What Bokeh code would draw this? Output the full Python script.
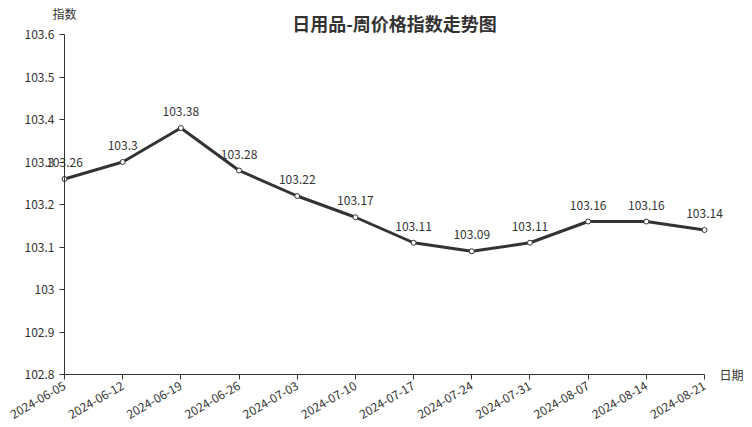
from bokeh.plotting import figure
from bokeh.models import (Range1d, FixedTicker, CustomJSTickFormatter, Label, LabelSet,
                          ColumnDataSource, LinearAxis)
from bokeh.core.properties import value
from bokeh.embed import file_html
from bokeh.resources import INLINE
import math

dates = ["2024-06-05", "2024-06-12", "2024-06-19", "2024-06-26", "2024-07-03", "2024-07-10",
         "2024-07-17", "2024-07-24", "2024-07-31", "2024-08-07", "2024-08-14", "2024-08-21"]
values = [103.26, 103.3, 103.38, 103.28, 103.22, 103.17, 103.11, 103.09, 103.11, 103.16, 103.16, 103.14]
y_ticks = [102.8, 102.9, 103.0, 103.1, 103.2, 103.3, 103.4, 103.5, 103.6]
y_min, y_max = 102.8, 103.6
title_text = "日用品-周价格指数走势图"
y_name = "指数"
x_name = "日期"

FONT = "Noto Sans CJK SC"
DARK = "#333333"

W, H = 752, 427
# plot area (px) inside the canvas: left 64, right 704, top 34, bottom 374
L, R, T, B = 64, 704, 34, 374
n = len(dates)
xpp = (n - 1) / (R - L)
ypp = (y_max - y_min) / (B - T)
x_range = Range1d(0 - L * xpp, (n - 1) + (W - R) * xpp)
y_range = Range1d(y_min - (H - B) * ypp, y_max + T * ypp)

p = figure(width=W, height=H, output_backend="svg", toolbar_location=None,
           x_range=x_range, y_range=y_range, x_axis_type=None, y_axis_type=None,
           min_border=0, min_border_left=0, min_border_right=0,
           min_border_top=0, min_border_bottom=0)
p.outline_line_color = None
p.grid.visible = False

xs = list(range(n))
src = ColumnDataSource(dict(x=xs, y=values, lab=[("%g" % v) for v in values]))

xaxis = LinearAxis(fixed_location=y_min, bounds=(0, n - 1))
yaxis = LinearAxis(fixed_location=0, bounds=(y_min, y_max))
p.add_layout(xaxis, "below")
p.add_layout(yaxis, "left")

for ax in (xaxis, yaxis):
    ax.axis_line_color = DARK
    ax.axis_line_width = 1
    ax.major_tick_line_color = DARK
    ax.minor_tick_line_color = None
    ax.major_tick_out = 5
    ax.major_tick_in = 0
    ax.major_label_text_font = FONT
    ax.major_label_text_font_size = "12px"
    ax.major_label_text_color = DARK

xaxis.ticker = FixedTicker(ticks=xs)
xaxis.major_label_overrides = {i: d for i, d in enumerate(dates)}
xaxis.major_label_orientation = math.pi / 6
yaxis.ticker = FixedTicker(ticks=y_ticks)
yaxis.formatter = CustomJSTickFormatter(code="return parseFloat(tick.toFixed(1)).toString();")

p.line("x", "y", source=src, line_color=DARK, line_width=3)
p.scatter("x", "y", source=src, size=5, fill_color="white", line_color=DARK, line_width=1)
p.add_layout(LabelSet(x="x", y="y", text="lab", source=src, text_align="center",
                      text_baseline="bottom", y_offset=12, text_font=value(FONT),
                      text_font_size="12px", text_color=DARK))

# screen units: relative to the frame (whole canvas), origin bottom-left
p.add_layout(Label(x=394, y=H - 22, x_units="screen", y_units="screen", text=title_text,
                   text_align="center", text_baseline="middle", text_font=FONT,
                   text_font_size="18px", text_font_style="bold", text_color=DARK))
p.add_layout(Label(x=L, y=H - 13, x_units="screen", y_units="screen", text=y_name,
                   text_align="center", text_baseline="middle", text_font=FONT,
                   text_font_size="12px", text_color=DARK))
p.add_layout(Label(x=719, y=H - B, x_units="screen", y_units="screen", text=x_name,
                   text_align="left", text_baseline="middle", text_font=FONT,
                   text_font_size="12px", text_color=DARK))

open("out.html", "w").write(file_html(p, INLINE))
